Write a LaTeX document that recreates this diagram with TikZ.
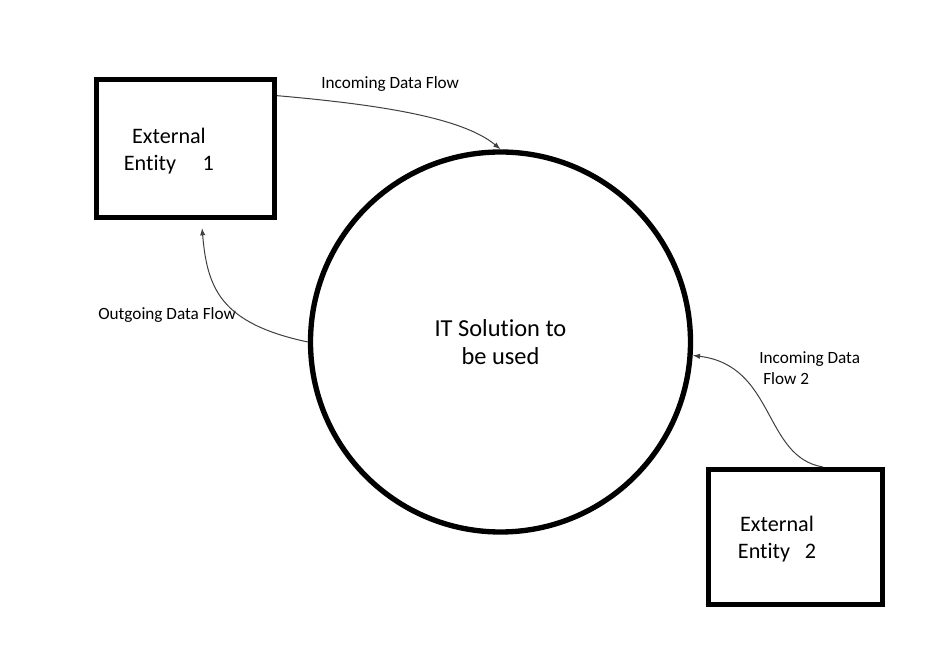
\documentclass[tikz,border=0pt]{standalone}
\usepackage{fontspec}
\setmainfont{Carlito}[Ligatures=NoCommon]
\usepackage{tikz}
\usetikzlibrary{arrows.meta,positioning,calc}

\begin{document}
\begin{tikzpicture}[>={Latex[length=5.5pt,width=4pt]},x=0.75pt,y=0.75pt,
  ent/.style={rectangle,draw=black,line width=3.75pt,inner sep=0pt},
  proc/.style={circle,draw=black,line width=4pt,minimum size=285pt,inner sep=0pt,align=center,font=\fontsize{18.3}{21.3}\selectfont},
  ar/.style={->,line width=0.75pt,black!75},
  lab/.style={font=\fontsize{12.9}{15.75}\selectfont,inner sep=0pt},
  etxt/.style={font=\fontsize{16.6}{20.25}\selectfont,inner sep=0pt,align=center}]
\fill[white] (0,0) rectangle (945,660);
\useasboundingbox (0,0) rectangle (945,660);
\node[ent,minimum width=133.5pt,minimum height=103.5pt] (e1) at (185.5,511.5) {};
\node[ent,minimum width=130.5pt,minimum height=101.25pt] (e2) at (795.5,123) {};
\node[proc] (sol) at (500.5,318) {IT Solution to\\be used};
\node[etxt] (t1) at ([xshift=-12.4pt,yshift=-1.9pt]e1.center) {External\\Entity\hspace{20pt}1};
\node[etxt] (t2) at ([xshift=-13.9pt,yshift=-1.5pt]e2.center) {External\\Entity\hspace{11pt}2};
\node[lab,anchor=base west] (l1) at (321,571) {Incoming Data Flow};
\node[lab,anchor=base west] (l2) at (98,340) {Outgoing Data Flow};
\node[lab,anchor=base west,align=left] (l3) at (759,275) {Incoming Data\\\hspace{3pt}Flow 2};
\draw[ar] (e1.30) to[out=-5,in=140,out distance=75pt,in distance=37.5pt] (sol.90);
\draw[ar] (sol.180) to[out=168,in=-85,out distance=67.5pt,in distance=45pt] ([xshift=12.4pt,yshift=-6pt]e1.south);
\draw[ar] ([xshift=20.6pt]e2.north) to[out=170.5,in=-7,out distance=45.6pt,in distance=62.7pt] (sol.-4.5);
\end{tikzpicture}
\end{document}
